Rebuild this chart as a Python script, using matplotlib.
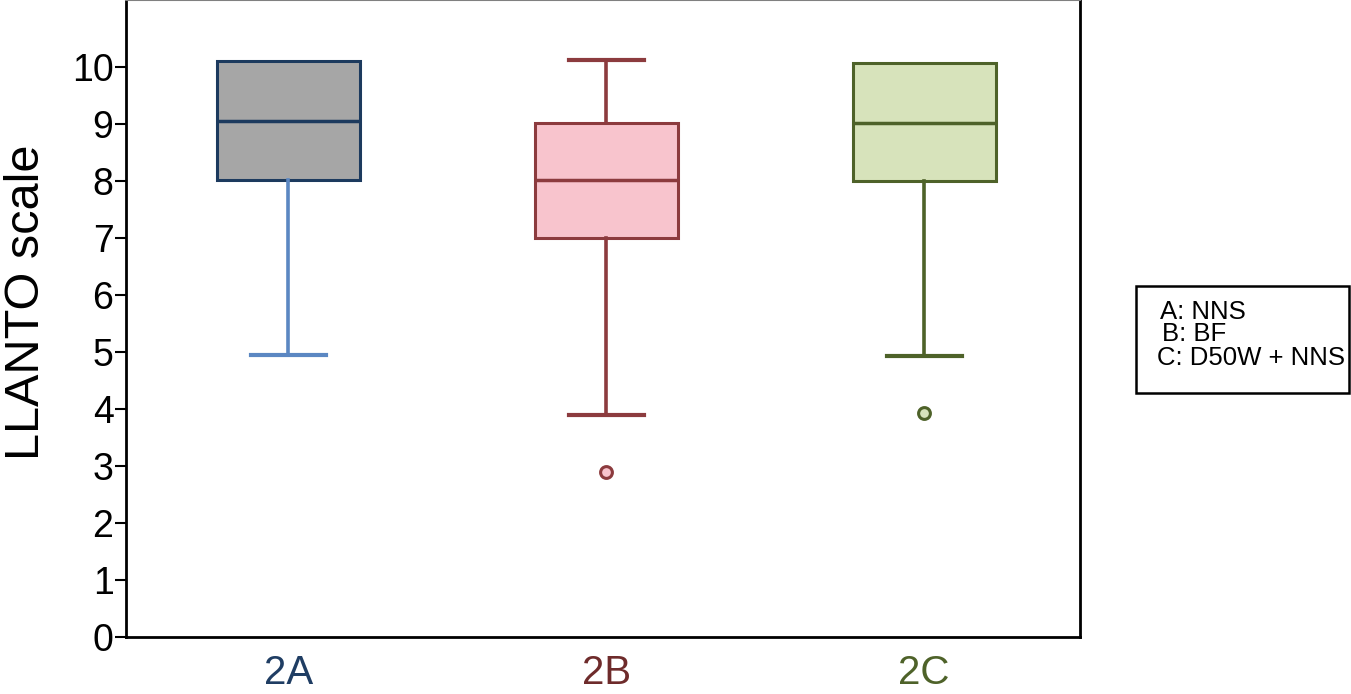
import matplotlib
matplotlib.use("Agg")
import matplotlib.pyplot as plt
from matplotlib.patches import Rectangle

plt.rcParams['font.family'] = ['Liberation Sans', 'DejaVu Sans']

categories = ["2A", "2B", "2C"]
whisker_low = [4.95, 3.9, 4.92]
q1 = [8.02, 7.0, 8.0]
median = [9.05, 8.02, 9.02]
q3 = [10.1, 9.02, 10.07]
whisker_high = [10.1, 10.12, 10.07]
outliers = [[], [2.9], [3.92]]
y_ticks = [0, 1, 2, 3, 4, 5, 6, 7, 8, 9, 10]
legend_lines = ["A: NNS", "B: BF", "C: D50W + NNS"]

fills = ["#a6a6a6", "#f8c4cd", "#d7e3bb"]
edges = ["#1c3a5e", "#8c3b3e", "#4e6229"]
whisker_cols = ["#5b87c2", "#8c3b3e", "#4e6229"]
label_cols = ["#1f3d63", "#6e2b2b", "#4e6229"]

fig = plt.figure(figsize=(13.51, 6.94), dpi=100)
ax = fig.add_axes([126/1351, 1 - 637/694, (1080-126)/1351, 637/694])

positions = [1, 2, 3]
for i in range(3):
    stats = [dict(med=median[i], q1=q1[i], q3=q3[i], whislo=whisker_low[i],
                  whishi=whisker_high[i], fliers=outliers[i], label=categories[i])]
    res = ax.bxp(stats, positions=[positions[i]], widths=0.45, patch_artist=True,
                 showfliers=True,
                 boxprops=dict(facecolor=fills[i], edgecolor=edges[i], linewidth=2.2),
                 medianprops=dict(color=edges[i], linewidth=2.5),
                 whiskerprops=dict(color=whisker_cols[i], linewidth=2.6),
                 capprops=dict(color=whisker_cols[i], linewidth=3.0),
                 capwidths=0.235,
                 flierprops=dict(marker='o', markersize=8.5, markerfacecolor=fills[i],
                                 markeredgecolor=edges[i], markeredgewidth=2.2))
    # hide the upper cap when whisker ends at the box edge
    if whisker_high[i] <= q3[i]:
        res['caps'][1].set_visible(False)
        res['whiskers'][1].set_visible(False)
    if whisker_low[i] >= q1[i]:
        res['caps'][0].set_visible(False)
        res['whiskers'][0].set_visible(False)

ax.set_xlim(0.49, 3.49)
ax.set_ylim(0, 11.17)
ax.set_yticks(y_ticks)
ax.set_yticklabels([str(t) for t in y_ticks], fontsize=27)
ax.set_xticks(positions)
ax.set_xticklabels(categories, fontsize=29)
for lbl, c in zip(ax.get_xticklabels(), label_cols):
    lbl.set_color(c)
ax.tick_params(axis='x', length=0, pad=12)
ax.tick_params(axis='y', length=8, width=1.5, pad=1)
ax.set_ylabel("LLANTO scale", fontsize=35)
ax.yaxis.set_label_coords(-0.081, 0.526)

for s in ['left', 'bottom', 'right']:
    ax.spines[s].set_color('black')
    ax.spines[s].set_linewidth(2)
ax.spines['top'].set_color('#808080')
ax.spines['top'].set_linewidth(1.5)

# legend box
fig.patches.append(Rectangle((1136/1351, 1 - 393/694), (1349-1136)/1351, (393-286)/694,
                             transform=fig.transFigure, fill=False, edgecolor='black',
                             linewidth=1.8))
xs = [1160, 1162, 1157]
ys = [312, 334, 358]
for t, x, y in zip(legend_lines, xs, ys):
    fig.text(x/1351, 1 - y/694, t, fontsize=18.5, va='center', ha='left')

fig.savefig("out.png", dpi=100)
